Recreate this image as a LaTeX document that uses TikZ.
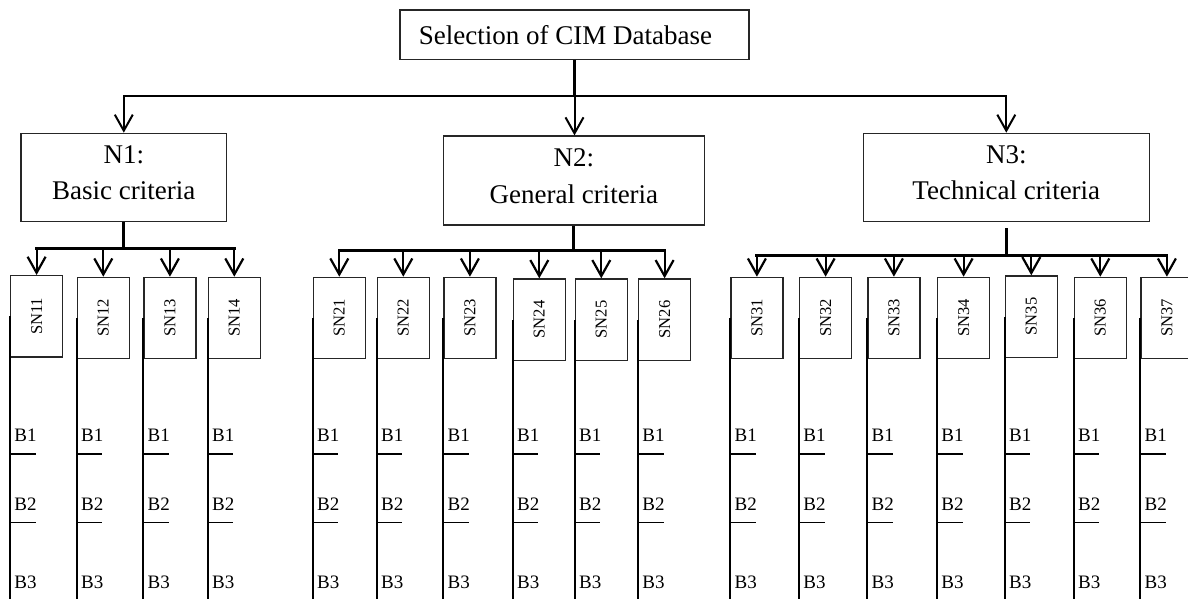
\documentclass[tikz,border=0pt]{standalone}
\usepackage{fontspec}
\setmainfont{Liberation Serif}
\usetikzlibrary{arrows.meta}
\begin{document}
\begin{tikzpicture}[x=0.5pt,y=-0.5pt,
  box/.style={draw=black!85, line width=0.6pt, inner sep=0pt, align=center,
    font=\fontsize{13.5}{18.3}\selectfont},
  snbox/.style={draw=black!85, line width=0.6pt, inner sep=0pt, anchor=north west,
    minimum width=26pt, minimum height=40.7pt, font=\fontsize{8.3}{10}\selectfont},
  link/.style={line width=1pt, -{Straight Barb[length=8pt,width=9pt]}},
  trunk/.style={line width=1.5pt},
  bus/.style={line width=1.5pt, line cap=rect},
  drop/.style={line width=1.1pt, -{Straight Barb[length=8pt,width=9pt]}},
  leg/.style={line width=1pt},
  tick/.style={line width=0.7pt},
  blabel/.style={anchor=base west, inner sep=0pt, font=\fontsize{9.5}{11}\selectfont}
]
\clip (0,0) rectangle (1188,599);

% root and the three criteria groups
\node[box, minimum width=174.5pt, minimum height=24.6pt] (top) at (574.5,34.7)
  {Selection of CIM Database\hspace*{9pt}};
\node[box, minimum width=102.8pt, minimum height=44.1pt] (n1) at (123.8,177.4)
  {N1:\\Basic criteria\rule[-4.7pt]{0pt}{4.7pt}};
\node[box, minimum width=130.7pt, minimum height=44.5pt] (n2) at (573.9,180.5)
  {N2:\\General criteria\rule[-4.7pt]{0pt}{4.7pt}};
\node[box, minimum width=143.2pt, minimum height=43.9pt] (n3) at (1006.3,177.2)
  {N3:\\Technical criteria\rule[-4.7pt]{0pt}{4.7pt}};

\coordinate (hub) at (574.5,96);
\coordinate (floor) at (0,600);
\coordinate (bus1) at (0,248.3);
\coordinate (bus2) at (0,250.7);
\coordinate (bus3) at (0,255);

\draw[trunk] (top.south) -- (hub);
\draw[link] (hub) -| (n1.north);
\draw[link] (hub) -| (n3.north);
\draw[link] (hub) -- (hub |- n2.north);

% sub-criteria columns with their B1..B3 levels
\foreach \n/\l/\t in {11/10/275,12/76.7/276.7,13/143.3/276.7,14/207.7/276.7,
    21/312.7/276.7,22/376.7/276.7,23/443.3/276.7,24/512.7/278.3,25/574.7/278.3,26/638/278.3,
    31/730.3/276.7,32/799/276.7,33/867.3/276.7,34/937/276.7,35/1004.7/275.3,36/1073.7/276.7,37/1140.3/276.7}{
  \node[snbox] (sn\n) at (\l,\t) {\rotatebox{90}{SN\n}};
  \draw[leg] (sn\n.west) -- (sn\n.west |- floor);
  \draw[tick] (\l,454) -- ++(25.7,0);
  \draw[tick] (\l,522.3) -- ++(25.7,0);
  \node[blabel] (b1-\n) at (\l+4,441.7) {B1};
  \node[blabel] (b2-\n) at (\l+4,510) {B2};
  \node[blabel] (b3-\n) at (\l+4,588.3) {B3};
}

% group N1
\draw[trunk] (n1.south) -- (n1.south |- bus1);
\draw[bus] (sn11.north |- bus1) -- (sn14.north |- bus1);
\foreach \i in {11,12,13,14}{\draw[drop] (sn\i.north |- bus1) -- (sn\i.north);}

% group N2
\draw[trunk] (n2.south) -- (n2.south |- bus2);
\draw[bus] (sn21.north |- bus2) -- (sn26.north |- bus2);
\foreach \i in {21,22,23,24,25,26}{\draw[drop] (sn\i.north |- bus2) -- (sn\i.north);}

% group N3
\draw[trunk, shorten <=3.3pt] (n3.south) -- (n3.south |- bus3);
\draw[bus] (sn31.north |- bus3) -- (sn37.north |- bus3);
\foreach \i in {31,32,33,34,35,36,37}{\draw[drop] (sn\i.north |- bus3) -- (sn\i.north);}
\end{tikzpicture}
\end{document}
